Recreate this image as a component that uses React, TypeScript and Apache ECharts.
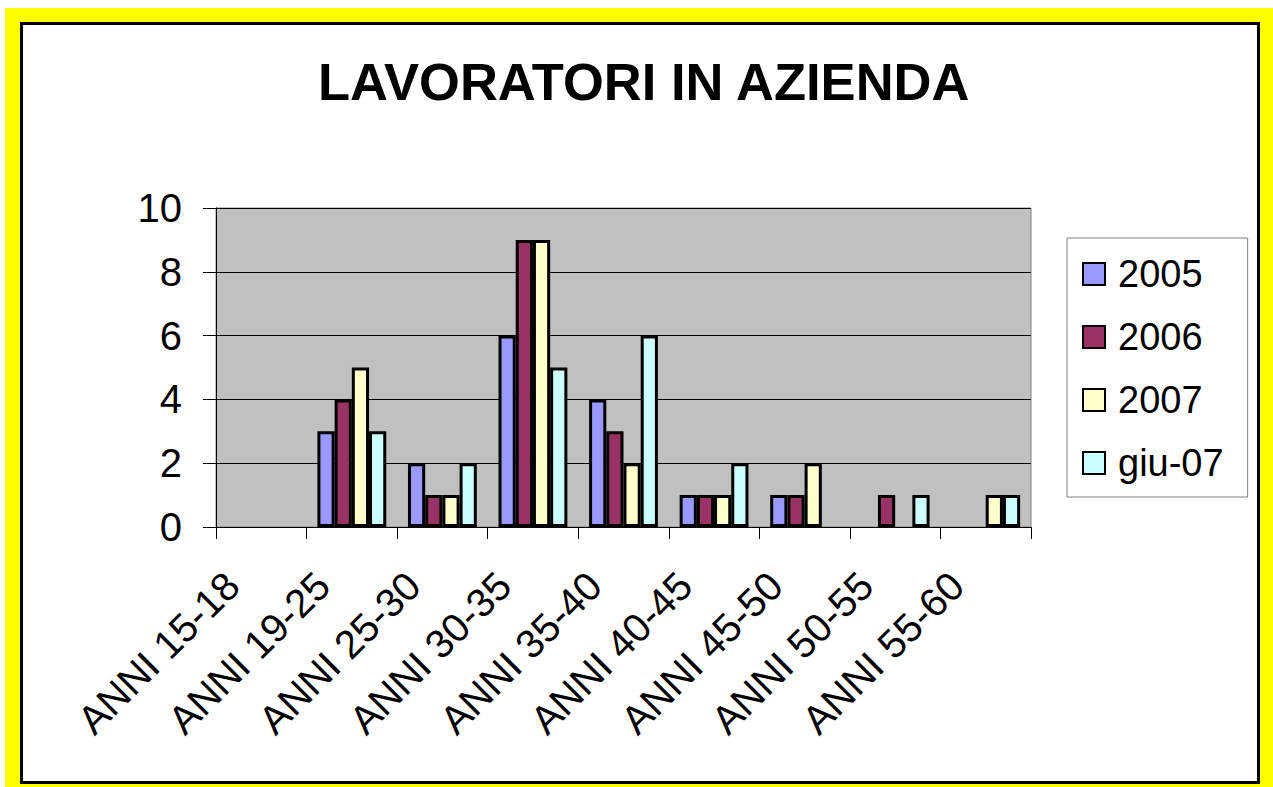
import React, { useEffect, useRef } from "react";
import * as echarts from "echarts";

const categories = [
  "ANNI 15-18",
  "ANNI 19-25",
  "ANNI 25-30",
  "ANNI 30-35",
  "ANNI 35-40",
  "ANNI 40-45",
  "ANNI 45-50",
  "ANNI 50-55",
  "ANNI 55-60",
];
const seriesNames = ["2005", "2006", "2007", "giu-07"];
const values2005 = [null, 3, 2, 6, 4, 1, 1, null, null];
const values2006 = [null, 4, 1, 9, 3, 1, 1, 1, null];
const values2007 = [null, 5, 1, 9, 2, 1, 2, null, 1];
const valuesGiu07 = [null, 3, 2, 5, 6, 2, null, 1, 1];
const seriesColors = ["#9999FF", "#993366", "#FFFFCC", "#CCFFFF"];
const titleText = "LAVORATORI IN AZIENDA";

const FONT = "'Liberation Sans', Arial, sans-serif";

export default function App() {
  const ref = useRef<HTMLDivElement>(null);

  useEffect(() => {
    if (!ref.current) return;
    const chart = echarts.init(ref.current, null, { renderer: "svg" });
    const allValues = [values2005, values2006, values2007, valuesGiu07];
    chart.setOption({
      animation: false,
      textStyle: { fontFamily: FONT },
      title: {
        text: titleText,
        left: 318,
        top: 55,
        padding: 0,
        textStyle: {
          fontFamily: FONT,
          fontWeight: "bold",
          fontSize: 52.5,
          lineHeight: 52,
          color: "#000",
        },
      },
      legend: {
        orient: "vertical",
        left: 1067,
        top: 238,
        padding: [17, 24, 15, 15],
        itemWidth: 22,
        itemHeight: 22,
        itemGap: 25,
        backgroundColor: "#fff",
        borderColor: "#808080",
        borderWidth: 1,
        icon: "rect",
        textStyle: {
          fontFamily: FONT,
          fontSize: 38,
          lineHeight: 34,
          color: "#000",
          padding: [0, 0, 0, 8],
        },
        data: seriesNames,
      },
      grid: {
        left: 216,
        top: 208,
        right: 242,
        bottom: 260,
        show: true,
        backgroundColor: "#C0C0C0",
        borderColor: "#808080",
        borderWidth: 1,
      },
      xAxis: {
        type: "category",
        data: categories,
        boundaryGap: true,
        axisLine: { show: true, lineStyle: { color: "#000", width: 1 } },
        axisTick: {
          show: true,
          length: 12,
          alignWithLabel: false,
          lineStyle: { color: "#000" },
        },
        axisLabel: {
          interval: 0,
          rotate: 45,
          margin: 23,
          padding: [0, 41, 0, 0],
          fontFamily: FONT,
          fontSize: 40,
          color: "#000",
        },
      },
      yAxis: {
        type: "value",
        min: 0,
        max: 10,
        interval: 2,
        axisLine: { show: true, lineStyle: { color: "#000", width: 1 } },
        axisTick: { show: true, length: 13, lineStyle: { color: "#000" } },
        splitLine: { show: true, lineStyle: { color: "#000", width: 1 } },
        axisLabel: {
          margin: 34,
          fontFamily: FONT,
          fontSize: 40,
          color: "#000",
        },
      },
      series: seriesNames.map((name, i) => ({
        name,
        type: "bar",
        data: allValues[i],
        barGap: "0%",
        barCategoryGap: "24%",
        itemStyle: {
          color: seriesColors[i],
          borderColor: "#000",
          borderWidth: 3,
        },
      })),
    });
    return () => chart.dispose();
  }, []);

  return (
    <div
      style={{
        position: "fixed",
        left: 0,
        top: 0,
        width: 1273,
        height: 787,
        background: "#fff",
      }}
    >
      <div
        style={{
          position: "absolute",
          left: 5,
          top: 8,
          width: 1268,
          height: 779,
          background: "#FFFF00",
        }}
      />
      <div
        style={{
          position: "absolute",
          left: 20,
          top: 22,
          width: 1240,
          height: 762,
          boxSizing: "border-box",
          border: "3px solid #000",
          background: "#fff",
        }}
      />
      <div
        ref={ref}
        style={{
          position: "absolute",
          left: 0,
          top: 0,
          width: 1273,
          height: 787,
        }}
      />
    </div>
  );
}
